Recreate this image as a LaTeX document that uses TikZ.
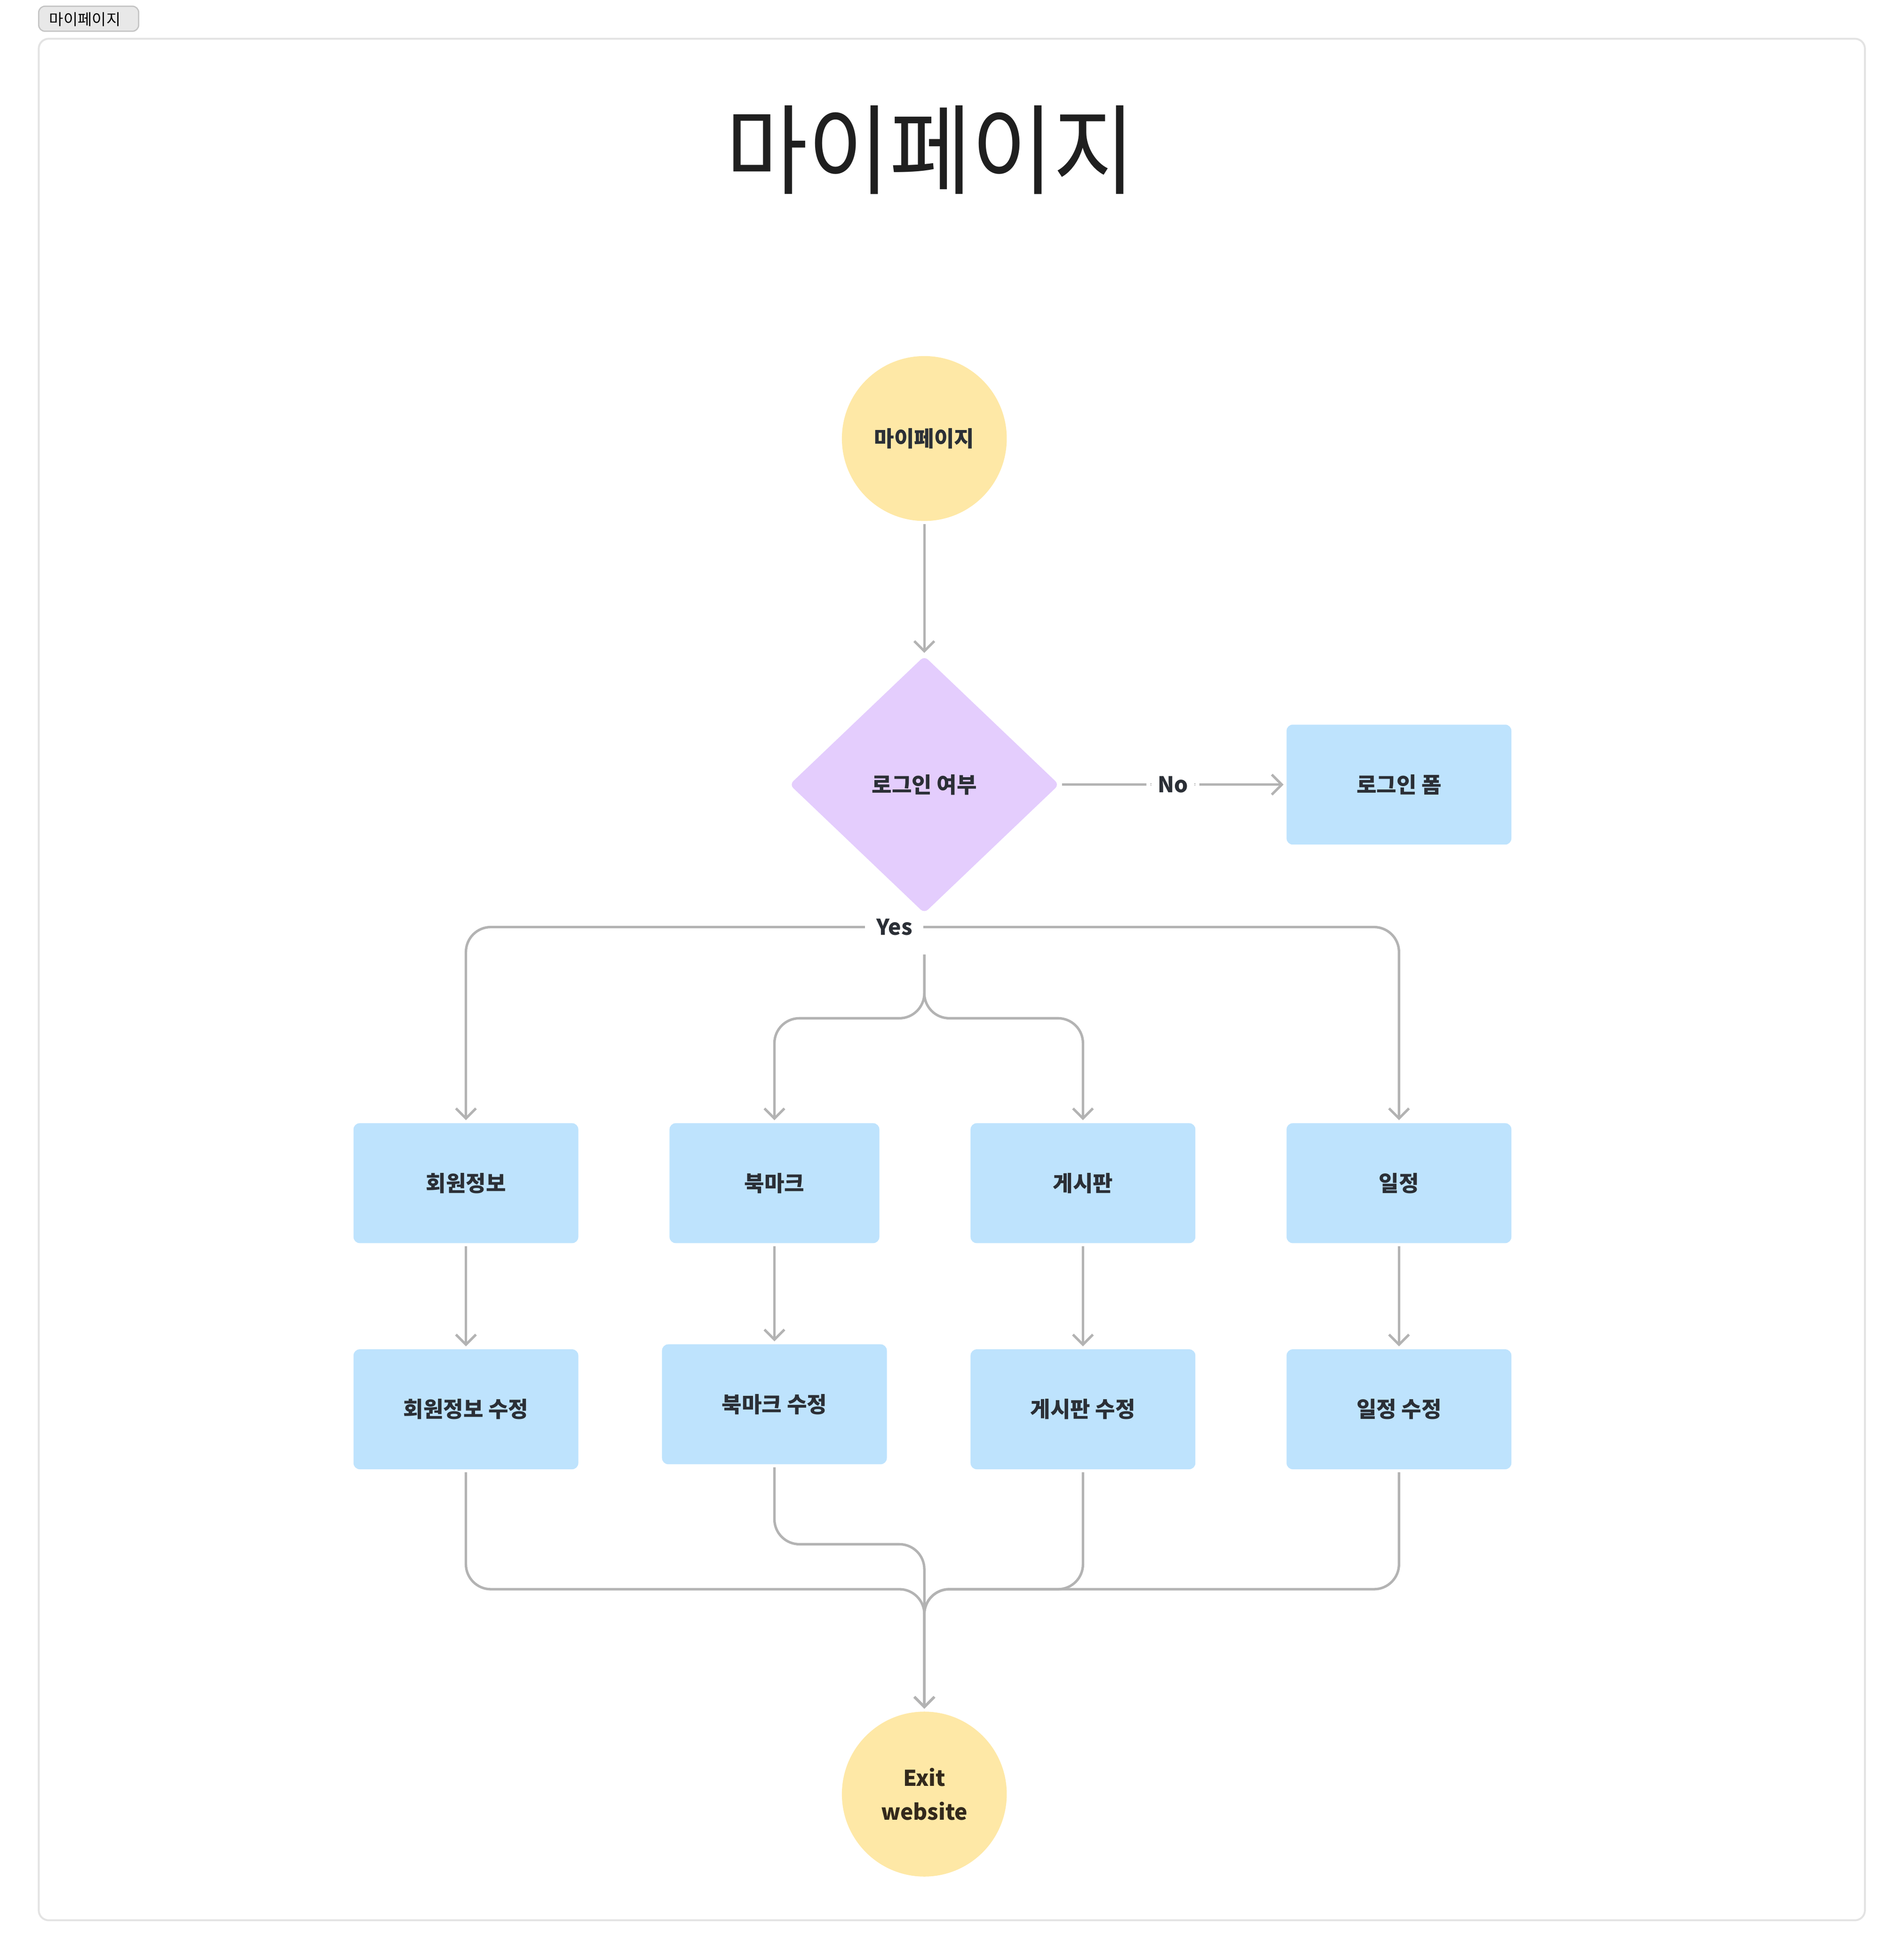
\documentclass[tikz,border=0pt]{standalone}
\usepackage{fontspec}
\setmainfont{Noto Sans CJK KR}
\usetikzlibrary{shapes.geometric,arrows.meta}
\definecolor{edgec}{HTML}{B3B3B3}
\definecolor{boxblue}{HTML}{BEE3FD}
\definecolor{termyel}{HTML}{FEE8A6}
\definecolor{decpur}{HTML}{E4CDFD}
\definecolor{txtc}{HTML}{2B2F36}
\definecolor{exittxt}{HTML}{33291C}
\definecolor{titlec}{HTML}{1F1F1F}
\definecolor{framec}{HTML}{E3E3E3}
\definecolor{tabfill}{HTML}{E8E8E8}
\definecolor{tabborder}{HTML}{C4C4C4}
\begin{document}
\begin{tikzpicture}[x=0.5pt,y=-0.5pt,
  nodefont/.style={font=\bfseries\fontsize{8.7}{13.5}\selectfont},
  proc/.style={rectangle, rounded corners=2.5pt, fill=boxblue, minimum width=90pt, minimum height=48pt, inner sep=0pt, nodefont, text=txtc},
  term/.style={circle, fill=termyel, minimum size=66pt, inner sep=0pt, nodefont, align=center},
  decision/.style={diamond, fill=decpur, minimum width=108pt, minimum height=103pt, inner sep=0pt, rounded corners=2pt, nodefont, text=txtc},
  conn/.style={draw=edgec, line width=1pt, -{Straight Barb[length=4pt,width=8pt,line width=1pt]}, shorten >=1pt, shorten <=1pt, rounded corners=10pt},
  lbl/.style={fill=white, inner xsep=4.5pt, inner ysep=1pt, nodefont, text=txtc}
]
\useasboundingbox (0,0) rectangle (1524,1568);

% tab and frame
\node[draw=tabborder, fill=tabfill, line width=0.5pt, rounded corners=2.5pt, minimum width=40pt, minimum height=10pt, inner sep=0pt] (tab) at (71,15) {};
\node[font=\fontsize{6.2}{7}\selectfont, inner sep=0pt] (tablabel) at (68,15.5) {마이페이지};
\draw[framec, line width=0.75pt, rounded corners=4pt] (31,31) rectangle (1493,1537);

% title
\node[font=\fontsize{35.6}{40}\selectfont, text=titlec, inner sep=0pt] (title) at (745,120) {\scalebox{1}[1.1]{마이페이지}};

% nodes
\node[term, text=txtc] (start) at (740,351) {마이페이지};
\node[decision] (dec) at (740,628) {로그인 여부};
\node[proc] (login) at (1120,628) {로그인 폼};

\node[proc] (info) at (373,947) {회원정보};
\node[proc, minimum width=84pt] (bm) at (620,947) {북마크};
\node[proc] (board) at (867,947) {게시판};
\node[proc] (sched) at (1120,947) {일정};

\node[proc] (infoe) at (373,1128) {회원정보 수정};
\node[proc] (bme) at (620,1124) {북마크 수정};
\node[proc] (boarde) at (867,1128) {게시판 수정};
\node[proc] (schede) at (1120,1128) {일정 수정};

\node[term, text=exittxt] (exit) at (740,1436) {Exit\\website};

% connectors
\draw[conn] (start) -- (dec);
\draw[conn] (dec) -- (login) node[lbl, midway] (nolbl) {No};

\coordinate (yes) at (716,742);
\draw[conn] (yes) -| (info.north);
\draw[conn] (yes) -| (sched.north);
\node[lbl] (yeslbl) at (yes) {Yes};

\coordinate (split) at (740,762);
\coordinate (fork) at (740,815);
\draw[conn] (split) -- (fork) -| (bm.north);
\draw[conn] (split) -- (fork) -| (board.north);

\draw[conn] (info) -- (infoe);
\draw[conn] (bm) -- (bme);
\draw[conn] (board) -- (boarde);
\draw[conn] (sched) -- (schede);

\coordinate (join1) at (740,1236);
\coordinate (join2) at (740,1272);
\draw[conn] (bme.south) |- (join1) -- (exit.north);
\draw[conn] (infoe.south) |- (join2) -- (exit.north);
\draw[conn] (boarde.south) |- (join2) -- (exit.north);
\draw[conn] (schede.south) |- (join2) -- (exit.north);
\end{tikzpicture}
\end{document}
